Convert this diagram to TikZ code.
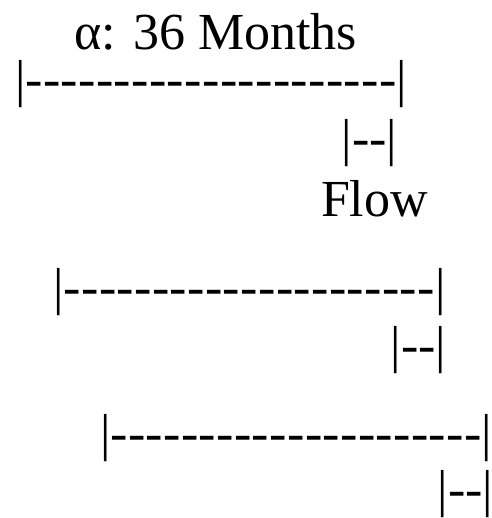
\documentclass[tikz,border=0pt]{standalone}
\usepackage{fontspec}
\setmainfont{Liberation Serif}
\newcommand\hy{-\kern0.38pt }
\newcommand\longbar{|\hy\hy\hy\hy\hy\hy\hy\hy\hy\hy\hy\hy\hy\hy\hy\hy\hy\hy\hy\hy\hy|\kern-3.3pt}
\newcommand\shortbar{|-\kern0pt -|\kern-3.3pt}
\begin{document}
\begin{tikzpicture}[x=1pt,y=-1pt,
  txt/.style={inner sep=0pt,outer sep=0pt,anchor=base west,font=\fontsize{52}{52}\selectfont}]
\useasboundingbox (0,0) rectangle (491,518);
\node[txt] (title) at (74,50) {α: 36 Months};
\node[txt] (l1) at (15,97) {\longbar};
\node[txt] (s1) at (341.6,155.7) {\shortbar};
\node[txt] (flow) at (321,216.7) {Flow};
\node[txt] (l2) at (53.3,304.7) {\longbar};
\node[txt] (s2) at (390.6,362) {\shortbar};
\node[txt] (l3) at (100,450.7) {\longbar};
\node[txt] (s3) at (437.8,506) {\shortbar};
\end{tikzpicture}
\end{document}
